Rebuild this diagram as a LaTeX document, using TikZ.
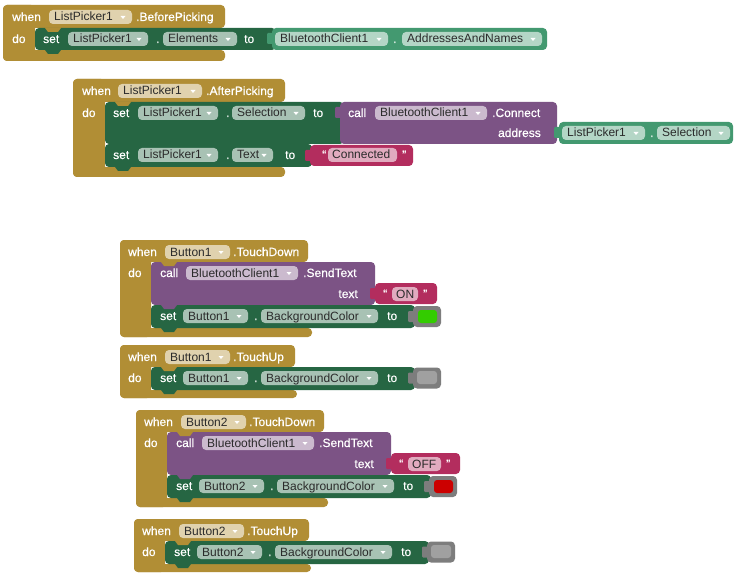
\documentclass[tikz,border=0pt]{standalone}
\usepackage{fontspec}
\setmainfont{Liberation Sans}
\newfontfamily\lblfont{Liberation Sans}[FakeBold=0.6]
\definecolor{aigold}{HTML}{B18E35}
\definecolor{aigoldf}{HTML}{E0D2AE}
\definecolor{aiset}{HTML}{266643}
\definecolor{aisetf}{HTML}{A8C2B4}
\definecolor{aiget}{HTML}{439970}
\definecolor{aigetf}{HTML}{B4D6C6}
\definecolor{aicall}{HTML}{7C5385}
\definecolor{aicallf}{HTML}{CBBACE}
\definecolor{aitext}{HTML}{B32D5E}
\definecolor{aitextf}{HTML}{E1ABBF}
\definecolor{aicol}{HTML}{7D7D7D}
\definecolor{aigreen}{HTML}{33CC00}
\definecolor{aired}{HTML}{CC0000}
\definecolor{aigray}{HTML}{A0A0A0}
\definecolor{aiftext}{HTML}{2B2B2B}
\tikzset{
  lbl/.style={text=white, inner sep=0pt, anchor=base west, font=\lblfont\fontsize{12}{14}\selectfont},
  lblr/.style={lbl, anchor=base east},
  ftxt/.style={text=aiftext, inner sep=0pt, anchor=base west, font=\fontsize{12}{14}\selectfont},
  blk/.style={rounded corners=4pt},
}
% dropdown field: name, x0, x1, y0, fill, text
\newcommand{\aidrop}[6]{%
  \fill[#5, rounded corners=4pt] (#2,#4) rectangle (#3,#4+14);
  \node[ftxt] (#1) at (#2+5,#4+11) {#6};
  \fill[white] (#3-11.5,#4+6) -- (#3-6.5,#4+6) -- (#3-9,#4+9) -- cycle;
}
% text field: name, x0, x1, y0, fill, text
\newcommand{\aistr}[6]{%
  \fill[#5, rounded corners=4pt] (#2,#4) rectangle (#3,#4+14);
  \node[ftxt] (#1) at (#2+4,#4+11) {#6};
}
% statement bump: x, y, colour
\newcommand{\aibump}[3]{%
  \fill[#3] (#1+10,#2-0.6) -- (#1+10,#2) -- (#1+13,#2+4) -- (#1+23,#2+4) -- (#1+26,#2) -- (#1+26,#2-0.6) -- cycle;
}
% value tab: x, y, colour
\newcommand{\aitab}[3]{%
  \fill[#3, rounded corners=1pt] (#1-5,#2+5) rectangle (#1+1,#2+16);
}
% event block: x0,y0,xTR,yTB,xs,yBB,xBR,yB
\newcommand{\aievent}[8]{%
  \fill[aigold, blk] (#1,#2) rectangle (#3,#4);
  \fill[aigold, blk] (#1,#2) rectangle (#5,#8);
  \fill[aigold, blk] (#1,#6) rectangle (#7,#8);
}
% touch-down block: prefix, component, pink text, pink field width, inner colour
\newcommand{\aitouchdown}[5]{%
  \aievent{120}{240}{308}{262}{151}{328}{312}{337}
  \fill[aicall, blk] (151,262) rectangle (375,305);
  \fill[aiset, blk] (151,305) rectangle (415,328);
  \aibump{151}{262}{aigold}
  \aibump{151}{305}{aicall}
  \aibump{151}{328}{aiset}
  \node[lbl] (#1when) at (128,256) {when};
  \aidrop{#1comp}{165}{230}{245}{aigoldf}{#2}
  \node[lbl] (#1ev) at (233,256) {.TouchDown};
  \node[lbl] (#1do) at (128,277) {do};
  \node[lbl] (#1call) at (160,277) {call};
  \aidrop{#1bt}{186}{298}{266}{aicallf}{BluetoothClient1}
  \node[lbl] (#1meth) at (303,277) {.SendText};
  \node[lblr] (#1textlbl) at (358,298) {text};
  \aitab{375}{283}{aitext}
  \fill[aitext, blk] (375,283) rectangle (375+17+#4+19,304);
  \node[lbl] (#1q1) at (383,298) {“};
  \aistr{#1str}{392}{392+#4}{287}{aitextf}{#3}
  \node[lbl] (#1q2) at (392+#4+5,298) {”};
  \node[lbl] (#1set) at (160,320) {set};
  \aidrop{#1comp2}{183}{248}{309}{aisetf}{#2}
  \node[lbl] (#1dot) at (254,320) {.};
  \aidrop{#1prop}{261}{378}{309}{aisetf}{BackgroundColor}
  \node[lbl] (#1to) at (387,320) {to};
  \aitab{413}{306}{aicol}
  \fill[aicol, blk] (413,306) rectangle (441,327);
  \fill[#5, rounded corners=3pt] (418,310) rectangle (437,323);
}
% touch-up block: prefix, component
\newcommand{\aitouchup}[2]{%
  \aievent{120}{345}{295}{367}{151}{390}{297}{398}
  \fill[aiset, blk] (151,367) rectangle (415,390);
  \aibump{151}{367}{aigold}
  \aibump{151}{390}{aiset}
  \node[lbl] (#1when) at (128,361) {when};
  \aidrop{#1comp}{165}{230}{350}{aigoldf}{#2}
  \node[lbl] (#1ev) at (233,361) {.TouchUp};
  \node[lbl] (#1do) at (128,382) {do};
  \node[lbl] (#1set) at (160,382) {set};
  \aidrop{#1comp2}{183}{248}{371}{aisetf}{#2}
  \node[lbl] (#1dot) at (254,382) {.};
  \aidrop{#1prop}{261}{378}{371}{aisetf}{BackgroundColor}
  \node[lbl] (#1to) at (387,382) {to};
  \aitab{413}{367.5}{aicol}
  \fill[aicol, blk] (413,367.5) rectangle (441,388.5);
  \fill[aigray, rounded corners=3pt] (417,371) rectangle (437,384);
}
\begin{document}
\begin{tikzpicture}[x=1pt,y=-1pt]
\useasboundingbox (0,0) rectangle (753,583);
\fill[white] (0,0) rectangle (753,583);

% ---------- ListPicker1.BeforePicking ----------
\aievent{3}{5}{225}{28}{35}{50}{225}{61}
\fill[aiset, blk] (35,28) rectangle (276,50);
\aibump{35}{28}{aigold}
\aibump{35}{50}{aiset}
\aitab{272}{28}{aiget}
\fill[aiget, blk] (272,28) rectangle (547,50);
\node[lbl] (aw) at (12,21) {when};
\aidrop{acomp}{49}{132}{10}{aigoldf}{ListPicker1}
\node[lbl] (aev) at (136,21) {.BeforePicking};
\node[lbl] (ado) at (12,43) {do};
\node[lbl] (aset) at (43,43) {set};
\aidrop{acomp2}{68}{148}{32}{aisetf}{ListPicker1}
\node[lbl] (adot) at (156,43) {.};
\aidrop{aprop}{163}{237}{32}{aisetf}{Elements}
\node[lbl] (ato) at (244,43) {to};
\aidrop{abt}{275}{388}{32}{aigetf}{BluetoothClient1}
\node[lbl] (adot2) at (393,43) {.};
\aidrop{aaddr}{402}{542}{32}{aigetf}{AddressesAndNames}

% ---------- ListPicker1.AfterPicking ----------
\aievent{73}{79}{285}{102}{105}{167}{285}{177}
\fill[aiset, blk] (105,102) rectangle (344,144);
\fill[aiset, blk] (105,144) rectangle (312,167);
\aibump{105}{102}{aigold}
\aibump{105}{144}{aiset}
\aibump{105}{167}{aiset}
\aitab{340}{102}{aicall}
\fill[aicall, blk] (340,102) rectangle (557,144);
\aitab{559}{122}{aiget}
\fill[aiget, blk] (559,122) rectangle (733,144);
\aitab{310}{145}{aitext}
\fill[aitext, blk] (310,145) rectangle (413,166);
\node[lbl] (bw) at (82,95) {when};
\aidrop{bcomp}{118}{202}{84}{aigoldf}{ListPicker1}
\node[lbl] (bev) at (206,95) {.AfterPicking};
\node[lbl] (bdo) at (82,117) {do};
\node[lbl] (bset) at (113,117) {set};
\aidrop{bcomp2}{138}{218}{106}{aisetf}{ListPicker1}
\node[lbl] (bdot) at (226,117) {.};
\aidrop{bprop}{232}{305}{106}{aisetf}{Selection}
\node[lbl] (bto) at (313,117) {to};
\node[lbl] (bcall) at (348,117) {call};
\aidrop{bbt}{375}{487}{106}{aicallf}{BluetoothClient1}
\node[lbl] (bmeth) at (492,117) {.Connect};
\node[lblr] (baddr) at (541,137) {address};
\aidrop{bgcomp}{562}{645}{126}{aigetf}{ListPicker1}
\node[lbl] (bdot3) at (650,137) {.};
\aidrop{bgprop}{657}{730}{126}{aigetf}{Selection}
\node[lbl] (bset2) at (113,159) {set};
\aidrop{bcomp3}{138}{218}{148}{aisetf}{ListPicker1}
\node[lbl] (bdot2) at (226,159) {.};
\aidrop{bprop2}{232}{273}{148}{aisetf}{Text}
\node[lbl] (bto2) at (285,159) {to};
\node[lbl] (bq1) at (322,159) {“};
\aistr{bstr}{328}{397}{148}{aitextf}{Connected}
\node[lbl] (bq2) at (402,159) {”};

% ---------- Button blocks ----------
\aitouchdown{c}{Button1}{ON}{26}{aigreen}
\aitouchup{d}{Button1}
\begin{scope}[shift={(16,170)}]
\aitouchdown{e}{Button2}{OFF}{33}{aired}
\end{scope}
\begin{scope}[shift={(14,174)}]
\aitouchup{f}{Button2}
\end{scope}
\end{tikzpicture}
\end{document}
